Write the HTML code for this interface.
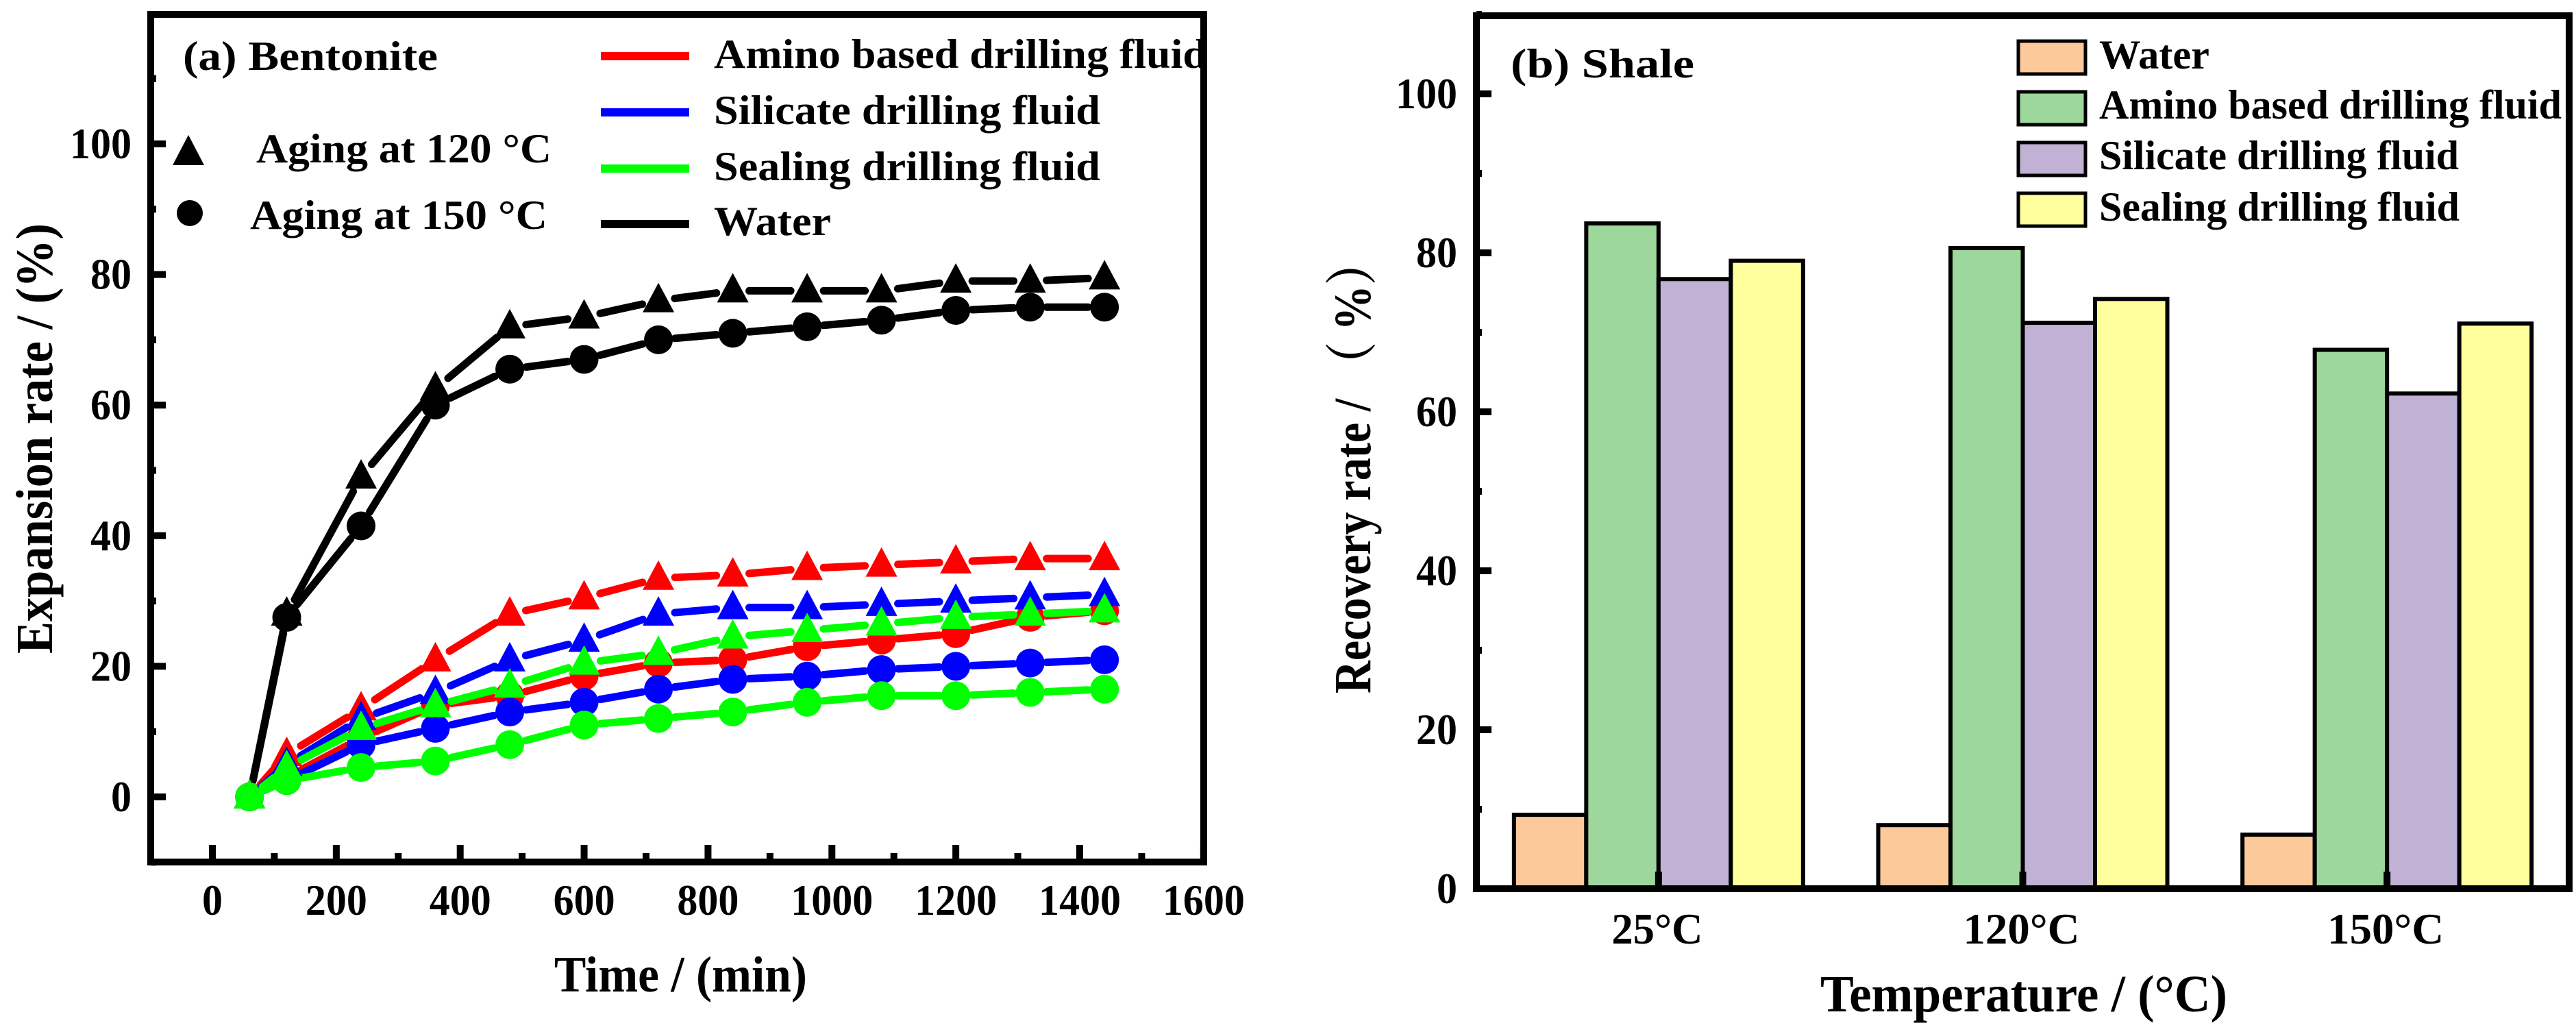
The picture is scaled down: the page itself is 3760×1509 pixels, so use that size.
<!DOCTYPE html>
<html><head><meta charset="utf-8"><style>
html,body{margin:0;padding:0;background:#fff;}
svg{display:block;font-family:"Liberation Serif","Noto Serif CJK SC",serif;font-weight:bold;}
</style></head><body>
<svg id="fig" width="3760" height="1509" viewBox="0 0 3760 1509" xmlns="http://www.w3.org/2000/svg">
<g id="left"></g>
<g id="right"></g>
</svg>
<script>
// ---- Panel (a) data ----
const times = [60,120,240,360,480,600,720,840,960,1080,1200,1320,1440];
const water120 = [0,28,49,62.5,72,73.5,76,77.5,77.5,77.5,79,79,79.5];
const water150 = [0,27.5,41.5,60,65.5,67,70,71,72,73,74.5,75,75];
const amino120 = [0,6.5,13.5,21,28,30.5,33.5,34,35,35.5,36,36.5,36.5];
const amino150 = [0,3,9,14,15.5,18.5,20.5,21,23,24,25,27.5,28.5];
const silicate120 = [0,5,12,16,21,24,28,29,29,29.5,30,30.5,31];
const silicate150 = [0,2.5,8,10.5,13,14.5,16.5,18,18.5,19.5,20,20.5,21];
const sealing120 = [0,4.5,10.5,14,17,20.5,22,24.5,25.5,26.5,27.5,28,28.5];
const sealing150 = [0,2.5,4.5,5.5,8,11,12,13,14.5,15.5,15.5,16,16.5];
const xTicksA = [0,200,400,600,800,1000,1200,1400,1600];
const yTicksA = [0,20,40,60,80,100];
// ---- Panel (b) data ----
const temps = ["25°C","120°C","150°C"];
const waterRec = [9.3,8.0,6.8];
const aminoRec = [83.7,80.6,67.8];
const silicateRec = [76.7,71.2,62.3];
const sealingRec = [79.0,74.2,71.1];
const yTicksB = [0,20,40,60,80,100];

const NS="http://www.w3.org/2000/svg";
function mk(parent,tag,attrs,text){const e=document.createElementNS(NS,tag);for(const k in attrs)e.setAttribute(k,attrs[k]);if(text!==undefined)e.textContent=text;parent.appendChild(e);return e;}

// ===== Panel (a) =====
const L=document.getElementById('left');
const ax={x0:220,x1:1757,y0:1258,y1:21};
const xA=v=>310+(v/1400)*(1576-310);
const yA=v=>1163-(v)*9.53;
// ticks
for(let v=0;v<=1600;v+=100){
  const len=v%200===0?25:13;
  const t=mk(L,'line',{x1:xA(v),x2:xA(v),y1:ax.y0,y2:ax.y0-len,stroke:'#000','stroke-width':10});
  
  
}
for(let v=-10;v<=110;v+=10){
  const len=v%20===0?22:8;
  const t=mk(L,'line',{x1:ax.x0,x2:ax.x0+len,y1:yA(v),y2:yA(v),stroke:'#000','stroke-width':10});
  
  
}
xTicksA.forEach(v=>{
  const t=mk(L,'text',{x:xA(v),y:1335,'font-size':64,'text-anchor':'middle',textLength:String(v).length*30,lengthAdjust:'spacingAndGlyphs'},String(v));
  
  
});
yTicksA.forEach(v=>{
  const t=mk(L,'text',{x:192,y:yA(v)+21,'font-size':64,'text-anchor':'end',textLength:String(v).length*30,lengthAdjust:'spacingAndGlyphs'},String(v));
  
  
});
// series
function drawSeries(vals,color,marker,name){
  const g=mk(L,'g',{});
  
  
  const pts=vals.map((v,i)=>[xA(times[i]),yA(v)]);
  for(let i=0;i<pts.length-1;i++){
    const [ax1,ay1]=pts[i],[bx,by]=pts[i+1];
    const d=Math.hypot(bx-ax1,by-ay1),gap=24;
    if(d<=2*gap)continue;
    const ux=(bx-ax1)/d,uy=(by-ay1)/d;
    const s=mk(g,'line',{x1:ax1+ux*gap,y1:ay1+uy*gap,x2:bx-ux*gap,y2:by-uy*gap,stroke:color,'stroke-width':11,'stroke-linecap':'round'});
    
    
  }
  pts.forEach(([px,py])=>{
    let m;
    if(marker==='tri'){m=mk(g,'polygon',{points:`${px},${py-26} ${px-23},${py+17} ${px+23},${py+17}`,fill:color});}
    else{m=mk(g,'circle',{cx:px,cy:py,r:21,fill:color});}
    
    
  });
}
drawSeries(water120,'#000','tri','water-120c-series');
drawSeries(water150,'#000','circ','water-150c-series');
drawSeries(amino150,'#ff0000','circ','amino-150c-series');
drawSeries(silicate150,'#0000ff','circ','silicate-150c-series');
drawSeries(sealing150,'#00ff00','circ','sealing-150c-series');
drawSeries(amino120,'#ff0000','tri','amino-120c-series');
drawSeries(silicate120,'#0000ff','tri','silicate-120c-series');
drawSeries(sealing120,'#00ff00','tri','sealing-120c-series');
// frame
const fa=mk(L,'rect',{x:ax.x0,y:ax.y1,width:ax.x1-ax.x0,height:ax.y0-ax.y1,fill:'none',stroke:'#000','stroke-width':10});


// titles
let t;
t=mk(L,'text',{x:809,y:1447,'font-size':74,textLength:369,lengthAdjust:'spacingAndGlyphs'},'Time / (min)');

t=mk(L,'text',{x:0,y:0,'font-size':76,'text-anchor':'middle',textLength:628,lengthAdjust:'spacingAndGlyphs',transform:'translate(76,640) rotate(-90)'},'Expansion rate / (%)');

t=mk(L,'text',{x:267,y:102,'font-size':60,textLength:372,lengthAdjust:'spacingAndGlyphs','xml:space':'preserve'},'(a)  Bentonite');

// marker legend
let m=mk(L,'polygon',{points:'275,197 252,241 298,241',fill:'#000'});

t=mk(L,'text',{x:374,y:237,'font-size':60,textLength:431,lengthAdjust:'spacingAndGlyphs'},'Aging at 120 °C');

m=mk(L,'circle',{cx:277,cy:311,r:19,fill:'#000'});

t=mk(L,'text',{x:365,y:334,'font-size':60,textLength:434,lengthAdjust:'spacingAndGlyphs'},'Aging at 150 °C');

const legA=[['Amino based drilling fluid','#ff0000',82,99,720],['Silicate drilling fluid','#0000ff',164,181,564],['Sealing drilling fluid','#00ff00',246,263,564],['Water','#000',327,343,171]];
legA.forEach(([lab,c,ly,by,w])=>{
  const s=mk(L,'line',{x1:877,x2:1006,y1:ly,y2:ly,stroke:c,'stroke-width':12});
  
  
  const tt=mk(L,'text',{x:1042,y:by,'font-size':60,textLength:w,lengthAdjust:'spacingAndGlyphs'},lab);
  
  
});

// ===== Panel (b) =====
const R=document.getElementById('right');
const bx0=2155,bx1=3750,by0=1297,by1=23;
const yB=v=>by0-v*11.6;
const cw=(bx1-bx0)/temps.length;
const xB=i=>bx0+cw*(i+0.5);
const barW=105.5;
const seriesB=[[waterRec,'#fbc99a','water-bar'],[aminoRec,'#9ed79c','amino-bar'],[silicateRec,'#c1b2d5','silicate-bar'],[sealingRec,'#ffff9e','sealing-bar']];
seriesB.forEach(([vals,col,name],si)=>{
  vals.forEach((v,i)=>{
    const x=xB(i)+(si-2)*barW;
    const r=mk(R,'rect',{x:x,y:yB(v),width:barW,height:by0-yB(v),fill:col,stroke:'#000','stroke-width':6});
    
    
  });
});
for(let v=10;v<=110;v+=10){
  const len=v%20===0?22:8;
  const tk=mk(R,'line',{x1:bx0,x2:bx0+len,y1:yB(v),y2:yB(v),stroke:'#000','stroke-width':10});
  
  
}
temps.forEach((lab,i)=>{
  const tk=mk(R,'line',{x1:xB(i),x2:xB(i),y1:by0,y2:by0-25,stroke:'#000','stroke-width':10});
  
  
  const tl=mk(R,'text',{x:xB(i)-2,y:1377,'font-size':64,'text-anchor':'middle',textLength:lab.length===4?133:170,lengthAdjust:'spacingAndGlyphs'},lab);
  
  
});
yTicksB.forEach(v=>{
  const tl=mk(R,'text',{x:2127,y:yB(v)+21,'font-size':64,'text-anchor':'end',textLength:String(v).length*30,lengthAdjust:'spacingAndGlyphs'},String(v));
  
  
});
const fb=mk(R,'rect',{x:bx0,y:by1,width:bx1-bx0,height:by0-by1,fill:'none',stroke:'#000','stroke-width':10});


t=mk(R,'text',{x:2657,y:1476,'font-size':76,textLength:594,lengthAdjust:'spacingAndGlyphs'},'Temperature / (°C)');

t=mk(R,'text',{x:0,y:0,'font-size':76,'text-anchor':'middle',textLength:662,lengthAdjust:'spacingAndGlyphs',transform:'translate(2000,681) rotate(-90)'},'Recovery rate / （ %）');

t=mk(R,'text',{x:2205,y:113,'font-size':60,textLength:268,lengthAdjust:'spacingAndGlyphs','xml:space':'preserve'},'(b)  Shale');

const legB=[['Water','#fbc99a',58,100,161],['Amino based drilling fluid','#9ed79c',132,173,675],['Silicate drilling fluid','#c1b2d5',206,247,525],['Sealing drilling fluid','#ffff9e',280,322,526]];
legB.forEach(([lab,c,ty,bl,w])=>{
  const s=mk(R,'rect',{x:2946,y:ty+2,width:98,height:48,fill:c,stroke:'#000','stroke-width':5});
  
  
  const tt=mk(R,'text',{x:3064,y:bl,'font-size':60,textLength:w,lengthAdjust:'spacingAndGlyphs'},lab);
  
  
});
</script>
</body></html>
